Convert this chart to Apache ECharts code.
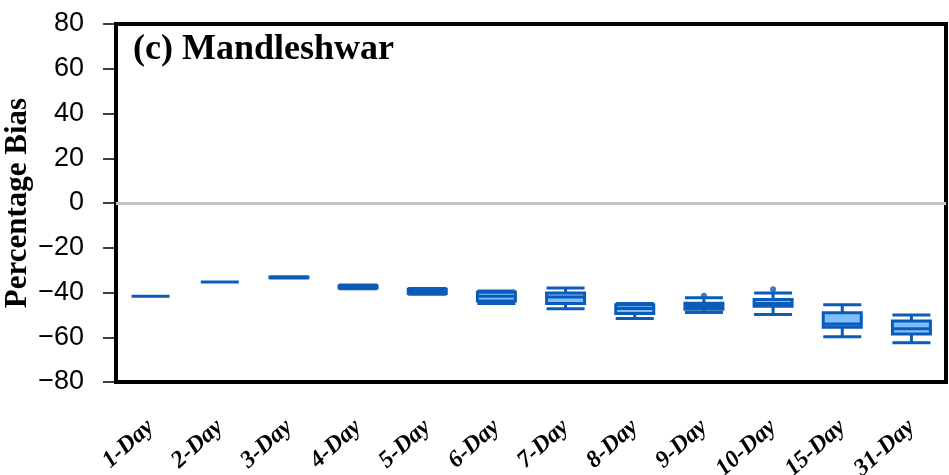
<!DOCTYPE html>
<html>
<head>
<meta charset="utf-8">
<script src="https://cdn.jsdelivr.net/npm/echarts@6/dist/echarts.min.js"></script>
<style>
  html, body { margin: 0; padding: 0; background: #fff; }
  #chart { width: 949px; height: 475px; }
</style>
</head>
<body>
<div id="chart"></div>
<script>
// lead times
const categories = ['1-Day', '2-Day', '3-Day', '4-Day', '5-Day', '6-Day', '7-Day', '8-Day', '9-Day', '10-Day', '15-Day', '31-Day'];
// [min, Q1, median, Q3, max]
const boxStats = [
    [-41.7, -41.7, -41.7, -41.7, -41.7],
    [-35.3, -35.3, -35.3, -35.3, -35.3],
    [-33.5, -33.4, -33.2, -33.1, -33.0],
    [-38.3, -38.0, -37.5, -37.0, -36.7],
    [-40.8, -40.5, -39.5, -38.5, -38.2],
    [-44.9, -43.8, -41.7, -39.9, -39.3],
    [-47.3, -44.9, -42.0, -40.2, -38.0],
    [-51.6, -49.4, -47.2, -45.5, -44.9],
    [-48.9, -47.5, -46.1, -44.8, -42.4],
    [-49.8, -46.1, -44.9, -43.1, -40.2],
    [-59.8, -55.5, -54.1, -49.1, -45.5],
    [-62.5, -58.6, -56.2, -52.7, -50.1]
];
// outliers: [category index, value]
const outliers = [
    [8, -41.4],
    [9, -38.5]
];
const yTicks = { min: -80, max: 80, interval: 20 };

const myChart = echarts.init(document.getElementById('chart'));

const option = {
    animation: false,
    backgroundColor: '#fff',
    title: {
        text: '(c) Mandleshwar',
        left: 128,
        top: 27,
        textStyle: {
            fontFamily: 'Liberation Serif',
            fontWeight: 'bold',
            fontSize: 36,
            color: '#000'
        }
    },
    grid: {
        left: 116,
        right: 3,
        top: 24,
        bottom: 93,
        outerBoundsMode: 'none',
        containLabel: false,
        show: true,
        borderColor: '#000',
        borderWidth: 4,
        backgroundColor: 'transparent'
    },
    xAxis: {
        type: 'category',
        data: categories,
        axisLine: { show: false },
        axisTick: { show: false },
        splitLine: { show: false },
        axisLabel: {
            rotate: 42,
            margin: 42,
            interval: 0,
            color: '#000',
            fontFamily: 'Liberation Serif',
            fontWeight: 'bold',
            fontStyle: 'italic',
            fontSize: 24
        }
    },
    yAxis: {
        type: 'value',
        min: yTicks.min,
        max: yTicks.max,
        interval: yTicks.interval,
        name: 'Percentage Bias',
        nameLocation: 'middle',
        nameGap: 83,
        nameMoveOverlap: false,
        nameTextStyle: {
            fontFamily: 'Liberation Serif',
            fontWeight: 'bold',
            fontSize: 31,
            color: '#000'
        },
        axisLine: { show: false },
        axisTick: {
            show: true,
            inside: false,
            length: 13,
            lineStyle: { color: '#000', width: 1.5 }
        },
        splitLine: { show: false },
        axisLabel: {
            margin: 32,
            color: '#000',
            fontFamily: 'Liberation Sans',
            fontSize: 27,
            formatter: v => String(v).replace('-', '\u2212')
        }
    },
    series: [
        {
            type: 'boxplot',
            data: boxStats,
            boxWidth: [38, 38],
            itemStyle: {
                color: '#80bfff',
                borderColor: '#0a5cb8',
                borderWidth: 3
            },
            markLine: {
                silent: true,
                symbol: 'none',
                label: { show: false },
                lineStyle: { color: '#c4c4c4', width: 3, type: 'solid' },
                data: [{ yAxis: 0 }]
            },
            z: 3
        },
        {
            type: 'scatter',
            data: outliers,
            symbol: 'circle',
            symbolSize: 6,
            itemStyle: { color: '#0a5cb8' },
            z: 4
        }
    ]
};

myChart.setOption(option);
</script>
</body>
</html>
